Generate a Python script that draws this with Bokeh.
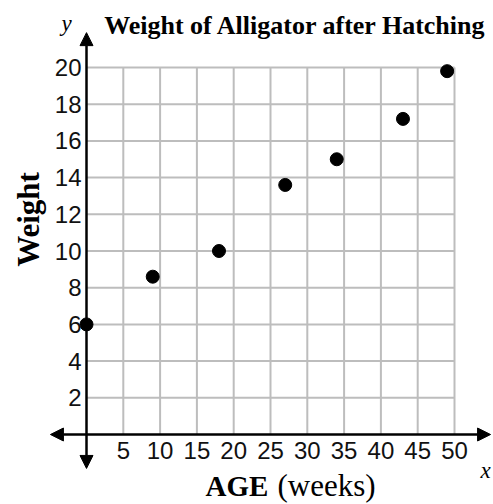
import math
from bokeh.plotting import figure
from bokeh.models import Arrow, NormalHead, Label, FixedTicker
from bokeh.embed import file_html
from bokeh.resources import INLINE

# ---- data ----
age_weeks = [0, 9, 18, 27, 34, 43, 49]
weight = [6, 8.6, 10, 13.6, 15, 17.2, 19.8]

x_ticks = [5, 10, 15, 20, 25, 30, 35, 40, 45, 50]
y_ticks = [2, 4, 6, 8, 10, 12, 14, 16, 18, 20]
x_grid_max = 50
y_grid_max = 20
x_axis_extent = (-4.9, 54.9)
y_axis_extent = (-1.85, 21.9)

title_text = "Weight of Alligator after Hatching"

# ---- canvas geometry ----
W, H = 493, 504
X0, SX = 86, 7.36      # canvas px of x=0, px per unit
Y0, SY = 434, 18.35    # canvas px (from top) of y=0, px per unit

p = figure(
    width=W, height=H,
    x_range=(-X0 / SX, (W - X0) / SX),
    y_range=(-(H - Y0) / SY, Y0 / SY),
    output_backend="svg", toolbar_location=None,
    min_border=0, outline_line_color=None,
    background_fill_color="white", border_fill_color="white",
)
p.xgrid.visible = False
p.ygrid.visible = False

# grid (derived from tick lists)
grid_color = "#bdbdbd"
p.segment(x0=x_ticks, y0=[0] * len(x_ticks), x1=x_ticks, y1=[y_grid_max] * len(x_ticks),
          line_color=grid_color, line_width=2, level="underlay")
p.segment(x0=[0] * len(y_ticks), y0=y_ticks, x1=[x_grid_max] * len(y_ticks), y1=y_ticks,
          line_color=grid_color, line_width=2, level="underlay")

# axes through origin (tick labels only)
for ax, ticks in ((p.xaxis[0], x_ticks), (p.yaxis[0], y_ticks)):
    ax.fixed_location = 0
    ax.ticker = FixedTicker(ticks=ticks)
    ax.axis_line_color = None
    ax.major_tick_line_color = None
    ax.minor_tick_line_color = None
    ax.major_tick_out = 0
    ax.major_tick_in = 0
    ax.major_label_text_font = "Liberation Sans"
    ax.major_label_text_font_size = "24px"
    ax.major_label_text_color = "#111111"
p.xaxis.major_label_standoff = 7
p.yaxis.major_label_standoff = 5

# axis lines with arrow heads
def head():
    return NormalHead(size=13, fill_color="black", line_color="black", line_width=1)

p.add_layout(Arrow(start=head(), end=head(), x_start=x_axis_extent[0], y_start=0,
                   x_end=x_axis_extent[1], y_end=0, line_width=2.5, line_color="black"))
p.add_layout(Arrow(start=head(), end=head(), x_start=0, y_start=y_axis_extent[0],
                   x_end=0, y_end=y_axis_extent[1], line_width=2.5, line_color="black"))

# data points
p.scatter(age_weeks, weight, size=13, color="black")

# texts (screen units: y measured from bottom)
BASE_FIX = 9  # labels render lower than the nominal alphabetic baseline

def lab(text, cx, cy, size, style="normal", font="Liberation Serif", align="center",
        baseline="alphabetic", angle=0.0):
    if baseline == "alphabetic":
        cy = cy - BASE_FIX
    p.add_layout(Label(x=cx, y=H - cy, x_units="screen", y_units="screen", text=text,
                       text_font=font, text_font_size=size, text_font_style=style,
                       text_align=align, text_baseline=baseline, angle=angle,
                       text_color="black"))

lab(title_text, 295, 34, "26px", "bold")
lab("y", 66, 32, "23px", "italic")
lab("x", 485, 479, "23px", "italic")
lab("Weight", 28, 219, "31px", "bold", baseline="middle", angle=math.pi / 2)
lab("AGE", 205, 494, "29px", "bold", align="left")
lab("(weeks)", 277, 494, "31px", "normal", align="left")

open("out.html", "w").write(file_html(p, INLINE))
